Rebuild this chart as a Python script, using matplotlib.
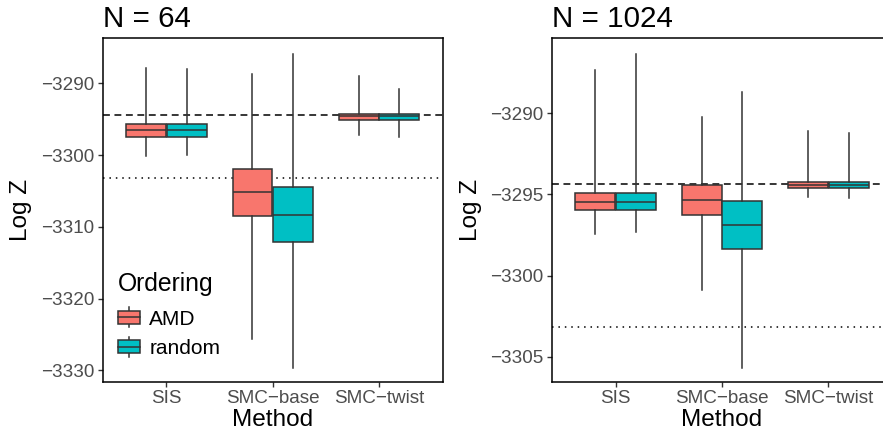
import matplotlib
matplotlib.use("Agg")
import matplotlib.pyplot as plt
from matplotlib.patches import Patch, Rectangle
from matplotlib.lines import Line2D
from matplotlib.legend_handler import HandlerBase

plt.rcParams['font.family'] = ['Liberation Sans', 'DejaVu Sans']

methods = ['SIS', 'SMC\u2212base', 'SMC\u2212twist']
orderings = ['AMD', 'random']
colors = ['#F8766D', '#00BFC4']
edge = '#333333'

# N = 64, box stats per method: whisker low, q1, median, q3, whisker high
n64_amd_lo = [-3300.05, -3325.6, -3297.2]
n64_amd_q1 = [-3297.4, -3308.4, -3295.15]
n64_amd_med = [-3296.55, -3305.15, -3294.6]
n64_amd_q3 = [-3295.7, -3301.85, -3294.2]
n64_amd_hi = [-3287.8, -3288.7, -3288.9]

n64_rnd_lo = [-3300.0, -3329.6, -3297.45]
n64_rnd_q1 = [-3297.4, -3312.05, -3295.15]
n64_rnd_med = [-3296.55, -3308.3, -3294.6]
n64_rnd_q3 = [-3295.6, -3304.45, -3294.2]
n64_rnd_hi = [-3288.05, -3285.95, -3290.7]

# N = 1024
n1024_amd_lo = [-3297.45, -3300.9, -3295.15]
n1024_amd_q1 = [-3295.95, -3296.3, -3294.6]
n1024_amd_med = [-3295.5, -3295.35, -3294.4]
n1024_amd_q3 = [-3294.95, -3294.4, -3294.25]
n1024_amd_hi = [-3287.35, -3290.25, -3291.1]

n1024_rnd_lo = [-3297.3, -3305.7, -3295.25]
n1024_rnd_q1 = [-3295.95, -3298.35, -3294.6]
n1024_rnd_med = [-3295.5, -3296.9, -3294.4]
n1024_rnd_q3 = [-3294.95, -3295.4, -3294.25]
n1024_rnd_hi = [-3286.35, -3288.7, -3291.25]

dashed_ref = -3294.37
dotted_ref = -3303.15

panels = [
    ('N = 64',
     [(n64_amd_lo, n64_amd_q1, n64_amd_med, n64_amd_q3, n64_amd_hi),
      (n64_rnd_lo, n64_rnd_q1, n64_rnd_med, n64_rnd_q3, n64_rnd_hi)],
     (-3331.6, -3283.7), [-3330, -3320, -3310, -3300, -3290]),
    ('N = 1024',
     [(n1024_amd_lo, n1024_amd_q1, n1024_amd_med, n1024_amd_q3, n1024_amd_hi),
      (n1024_rnd_lo, n1024_rnd_q1, n1024_rnd_med, n1024_rnd_q3, n1024_rnd_hi)],
     (-3306.55, -3285.4), [-3305, -3300, -3295, -3290]),
]


class BoxHandler(HandlerBase):
    # small boxplot glyph like the ggplot legend key
    def create_artists(self, legend, orig_handle, xdescent, ydescent,
                       width, height, fontsize, trans):
        fc = orig_handle.get_facecolor()
        x0 = -xdescent
        y0 = -ydescent
        cx = x0 + width / 2
        cy = y0 + height / 2
        bh = height * 0.65
        wl = Line2D([cx, cx], [y0, y0 + height],
                    color=edge, lw=1.1, transform=trans)
        rect = Rectangle((x0, cy - bh / 2), width, bh,
                         facecolor=fc, edgecolor=edge, lw=1.1, transform=trans)
        med = Line2D([x0, x0 + width], [cy, cy],
                     color=edge, lw=1.1, transform=trans)
        return [wl, rect, med]


fig = plt.figure(figsize=(8.83, 4.38), dpi=100)
axes_pos = [[0.1163, 0.1279, 0.3850, 0.7847],
            [0.6248, 0.1279, 0.3857, 0.7847]]
ylab_x = [-0.209, -0.206]

pos = [1, 2, 3]
offsets = [-0.19, 0.19]

for k, (title, groups, ylim, yticks) in enumerate(panels):
    ax = fig.add_axes(axes_pos[k])
    ax.axhline(dashed_ref, color='black', lw=1.1, ls=(0, (4.5, 3)), zorder=1)
    ax.axhline(dotted_ref, color='black', lw=1.1, ls=(0, (1, 3.2)), zorder=1)
    for g, (lo, q1, med, q3, hi) in enumerate(groups):
        stats = []
        for i in range(len(methods)):
            stats.append({'whislo': lo[i], 'q1': q1[i], 'med': med[i],
                          'q3': q3[i], 'whishi': hi[i]})
        ax.bxp(stats, positions=[p + offsets[g] for p in pos], widths=0.375,
               patch_artist=True, showfliers=False, showcaps=False,
               manage_ticks=False,
               boxprops=dict(facecolor=colors[g], edgecolor=edge, lw=1.1),
               whiskerprops=dict(color=edge, lw=1.1),
               medianprops=dict(color=edge, lw=1.1))
    ax.set_xlim(0.4, 3.6)
    ax.set_ylim(*ylim)
    ax.set_xticks(pos)
    ax.set_xticklabels(methods)
    ax.set_yticks(yticks)
    ax.tick_params(axis='both', labelsize=13.6, labelcolor='#4D4D4D',
                   color='#333333', length=3.5, width=1, pad=2.5)
    for s in ax.spines.values():
        s.set_color('black')
        s.set_linewidth(1.1)
    ax.set_xlabel('Method', fontsize=17.6, labelpad=1)
    ax.set_ylabel('Log Z', fontsize=17.6)
    ax.yaxis.set_label_coords(ylab_x[k], 0.5)
    ax.set_title(title, loc='left', fontsize=21.3, pad=8)

    if k == 0:
        handles = [Patch(facecolor=c, edgecolor=edge) for c in colors]
        leg = ax.legend(handles, orderings, title='Ordering',
                        handler_map={Patch: BoxHandler()},
                        loc='lower left', bbox_to_anchor=(0.045, 0.070),
                        borderaxespad=0, borderpad=0,
                        frameon=False, fontsize=15, title_fontsize=17.8,
                        handlelength=1.05, handleheight=1.1, handletextpad=0.45,
                        labelspacing=0.4, alignment='left')
        leg._legend_box.sep = 8.5

fig.savefig('out.png', dpi=100)
